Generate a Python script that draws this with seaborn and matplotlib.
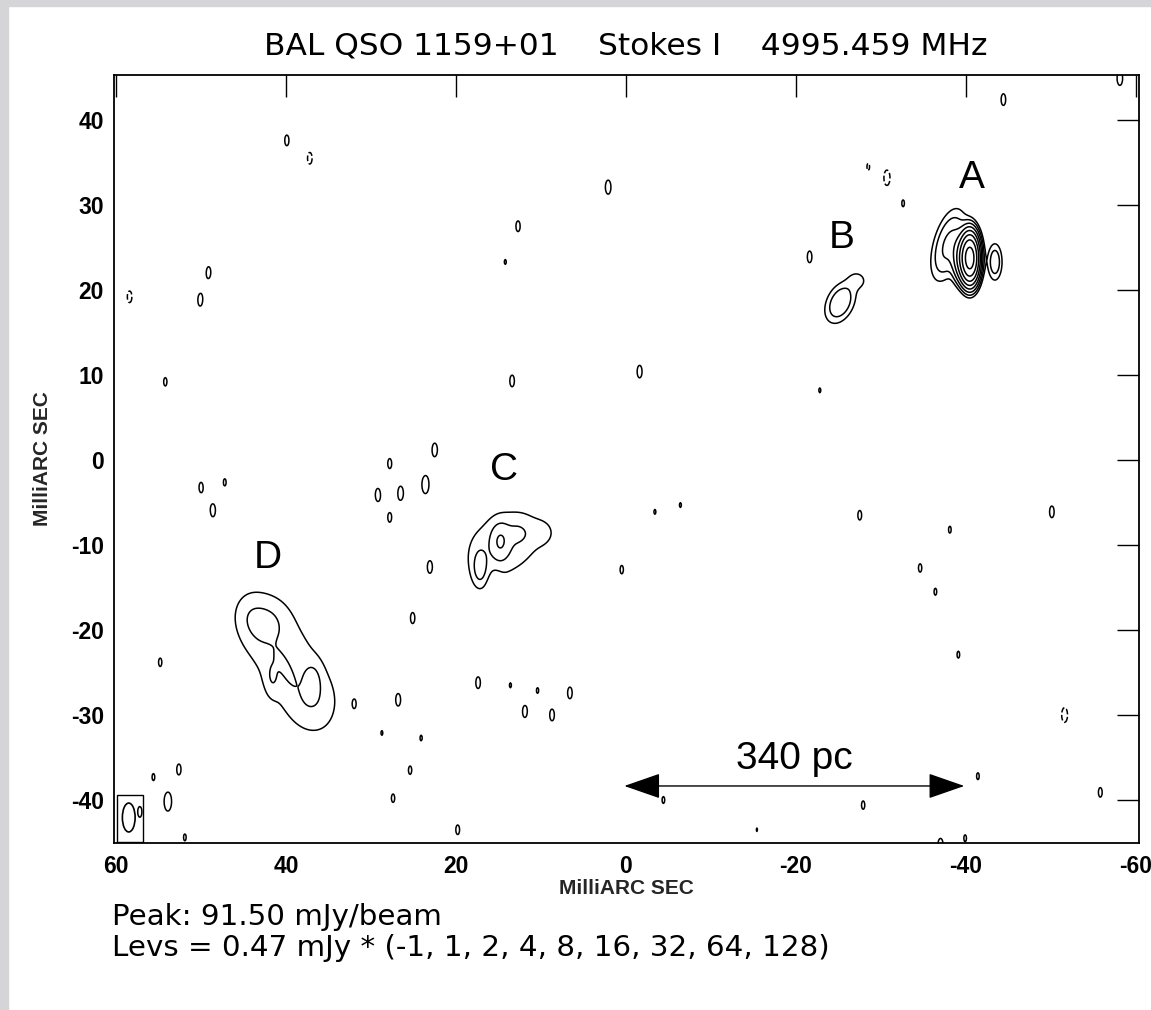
import numpy as np
import matplotlib
matplotlib.use("Agg")
import matplotlib.pyplot as plt
import seaborn as sns
from matplotlib.patches import Rectangle, Ellipse

# ---------------- data ----------------
title_text = "BAL QSO 1159+01    Stokes I    4995.459 MHz"
peak_text = "Peak: 91.50 mJy/beam"
levs_text = "Levs = 0.47 mJy * (-1, 1, 2, 4, 8, 16, 32, 64, 128)"
level_base = 0.47
level_mult = [-1, 1, 2, 4, 8, 16, 32, 64, 128]

# extended components (mas, mJy/beam, sigmas in mas, angle deg in display frame)
comp_x   = [-40.47, -39.6, -37.9, -43.4,
            -25.2, -27.3,
            14.3, 14.8, 17.2, 12.7, 9.8,
            39.9, 42.5, 40.1, 41.6, 36.9, 36.9, 44.2]
comp_y   = [23.76, 23.76, 25.3, 23.3,
            18.5, 21.2,
            -9.8, -9.6, -12.7, -8.6, -8.6,
            -23.8, -19.4, -24.5, -25.5, -25.8, -28.2, -18.2]
comp_amp = [84.0, 9.0, 2.2, 1.5,
            1.7, 0.55,
            0.78, 1.3, 0.9, 0.4, 0.3,
            0.72, 0.6, 0.45, 0.45, 0.55, 0.4, 0.28]
comp_sa  = [0.55, 0.65, 1.0, 0.55,
            1.6, 0.8,
            4.2, 0.7, 0.6, 1.0, 1.0,
            8.0, 1.6, 1.6, 0.55, 0.7, 1.6, 1.2]
comp_sb  = [1.45, 1.5, 2.5, 1.4,
            1.0, 0.9,
            3.1, 1.3, 1.5, 1.0, 1.0,
            3.5, 1.8, 0.5, 1.4, 1.3, 2.0, 1.5]
comp_pa  = [0, 0, -15, 0,
            65, 60,
            35, 0, 0, 0, 0,
            -62, -20, -65, 0, 0, 0, 0]

# small noise peaks (beam shaped)
noise_x = [39.9, 2.1, 12.7, 14.2, 49.1, 50.1, -44.4, -58.1, -32.6, -21.6, 54.2, 13.4, -1.6, -22.8,
           22.5, 27.8, 29.2, 26.5, 23.6, 27.8, 50.0, 47.2, 48.6, -3.4, -6.4, -27.5, -38.1, -50.1,
           23.1, 0.5, -34.6, -36.4, 25.1, 54.8, -39.1, 17.4, 13.6, 11.9, 8.7, 10.4, 6.6, 31.9,
           26.8, 28.7, 24.1, 25.4, 55.6, 52.6, 53.9, 27.4, -4.4, -27.9, -41.4, -55.8, 51.9,
           19.8, -15.4, -37.0, -39.9, 57.2,
           37.2, 58.4, -30.7, -28.5, 15.4, -51.6]
noise_y = [37.6, 32.1, 27.5, 23.3, 22.1, 18.8, 42.4, 44.9, 30.2, 23.9, 9.2, 9.3, 10.4, 8.2,
           1.2, -0.4, -4.1, -3.9, -2.9, -6.8, -3.2, -2.6, -5.9, -6.1, -5.3, -6.5, -8.2, -6.1,
           -12.6, -12.9, -12.7, -15.5, -18.6, -23.8, -22.9, -26.2, -26.5, -29.6, -30.0, -27.1, -27.4, -28.6,
           -28.2, -32.1, -32.7, -36.5, -37.3, -36.4, -40.2, -39.8, -40.0, -40.6, -37.2, -39.1, -44.4,
           -43.5, -43.5, -45.3, -44.5, -41.4,
           35.5, 19.2, 33.2, 34.5, -15.6, -30.0]
noise_amp = [0.52, 0.56, 0.52, 0.48, 0.52, 0.53, 0.53, 0.56, 0.49, 0.53, 0.50, 0.53, 0.54, 0.48,
             0.55, 0.51, 0.54, 0.55, 0.62, 0.50, 0.50, 0.48, 0.50, 0.48, 0.48, 0.51, 0.49, 0.53,
             0.475, 0.50, 0.50, 0.49, 0.52, 0.50, 0.49, 0.53, 0.48, 0.53, 0.53, 0.48, 0.53, 0.32,
             0.53, 0.43, 0.48, 0.49, 0.49, 0.52, 0.64, 0.48, 0.49, 0.50, 0.49, 0.51, 0.49,
             0.51, 0.475, 0.55, 0.49, 0.52,
             -0.53, -0.53, -0.58, -0.49, -0.52, -0.57]
beam_sx, beam_sy = 0.55, 1.4

src_names = ["A", "B", "C", "D"]
src_lx = [-40.7, -25.4, 14.4, 42.1]
src_ly = [33.2, 26.1, -1.2, -11.5]

x_ticks = [60, 40, 20, 0, -20, -40, -60]
y_ticks = [40, 30, 20, 10, 0, -10, -20, -30, -40]

scale_label = "340 pc"
scale_x0, scale_x1, scale_y = 0.2, -39.8, -38.35

# ---------------- build the model map ----------------
xs = np.arange(-61.0, 61.0, 0.1)
ys = np.arange(-46.0, 46.0, 0.1)
X, Y = np.meshgrid(xs, ys)
Z = np.zeros_like(X)

def add_gauss(x0, y0, amp, sa, sb, pa):
    t = np.deg2rad(pa)
    du = -(X - x0)
    dv = Y - y0
    a = du * np.cos(t) + dv * np.sin(t)
    b = -du * np.sin(t) + dv * np.cos(t)
    return amp * np.exp(-0.5 * ((a / sa) ** 2 + (b / sb) ** 2))

for i in range(len(comp_x)):
    Z += add_gauss(comp_x[i], comp_y[i], comp_amp[i], comp_sa[i], comp_sb[i], comp_pa[i])
for i in range(len(noise_x)):
    Z += add_gauss(noise_x[i], noise_y[i], noise_amp[i], beam_sx, beam_sy, 0)

levels = sorted(level_base * m for m in level_mult)

# ---------------- figure ----------------
sns.set_theme(style="white")
plt.rcParams["font.family"] = ["DejaVu Sans"]
plt.rcParams["contour.negative_linestyle"] = "dashed"

W, H = 1151, 1010
fig = plt.figure(figsize=(W / 100, H / 100), dpi=100)
fig.patch.set_facecolor("white")
fig.patches.append(Rectangle((0, 0), 8 / W, 1, transform=fig.transFigure, color="#d5d5d7", zorder=0))
fig.patches.append(Rectangle((0, 1 - 6 / H), 1, 6 / H, transform=fig.transFigure, color="#d5d5d7", zorder=0))

L, R, T, B = 113.5, 1139, 75, 843
ax = fig.add_axes([L / W, 1 - B / H, (R - L) / W, (B - T) / H])
ax.set_facecolor("white")

ax.contour(X, Y, Z, levels=levels, colors="black", linewidths=1.1)

ax.set_xlim((626 - L) / 8.5, (626 - R) / 8.5)
ax.set_ylim((460 - B) / 8.5, (460 - T) / 8.5)

tick_font = dict(family="Liberation Sans", weight="bold", size=16.5)
ax.set_xticks(x_ticks)
ax.set_xticklabels([str(v) for v in x_ticks], fontdict=tick_font)
ax.set_yticks(y_ticks)
ax.set_yticklabels([str(v) for v in y_ticks], fontdict=tick_font)
ax.tick_params(axis="both", direction="in", length=16, width=1.0, color="black",
               top=True, right=True, labelcolor="black")
ax.tick_params(axis="x", pad=8.5)
ax.tick_params(axis="y", pad=7)
for s in ax.spines.values():
    s.set_visible(True)
    s.set_color("black")
    s.set_linewidth(1.3)

ax.set_xlabel("MilliARC SEC", fontdict=dict(family="Liberation Sans", weight="bold", size=15))
ax.set_ylabel("MilliARC SEC", fontdict=dict(family="Liberation Sans", weight="bold", size=15))
ax.xaxis.set_label_coords(0.5, (B - 879) / (B - T))
ax.yaxis.set_label_coords((52 - L) / (R - L), 0.5)

# source labels
for n, lx, ly in zip(src_names, src_lx, src_ly):
    ax.text(lx, ly, n, ha="center", va="center", family="Liberation Sans", fontsize=28, color="black")

# scale bar
ax.annotate("", xy=(scale_x1, scale_y), xytext=(scale_x0, scale_y),
            arrowprops=dict(arrowstyle="<|-|>,head_length=2.3,head_width=0.8", mutation_scale=10,
                            color="black", lw=1.0, shrinkA=0, shrinkB=0))
ax.text((scale_x0 + scale_x1) / 2, scale_y + 1.0, scale_label, ha="center", va="bottom",
        family="Liberation Sans", fontsize=28, color="black")

# beam
ax.add_patch(Rectangle((56.8, -44.9), 3.05, 5.5, fill=False, ec="black", lw=1.0))
ax.add_patch(Ellipse((58.5, -42.06), 1.5, 3.4, fill=False, ec="black", lw=1.2))

# texts
fig.text(626 / W, 1 - 54 / H, title_text, ha="center", va="baseline", fontsize=22.5, color="black")
fig.text(112 / W, 1 - 925 / H, peak_text, ha="left", va="baseline", fontsize=21.2, color="black")
fig.text(112 / W, 1 - 956 / H, levs_text, ha="left", va="baseline", fontsize=21.2, color="black")

fig.savefig("out.png", dpi=100, facecolor="white")
